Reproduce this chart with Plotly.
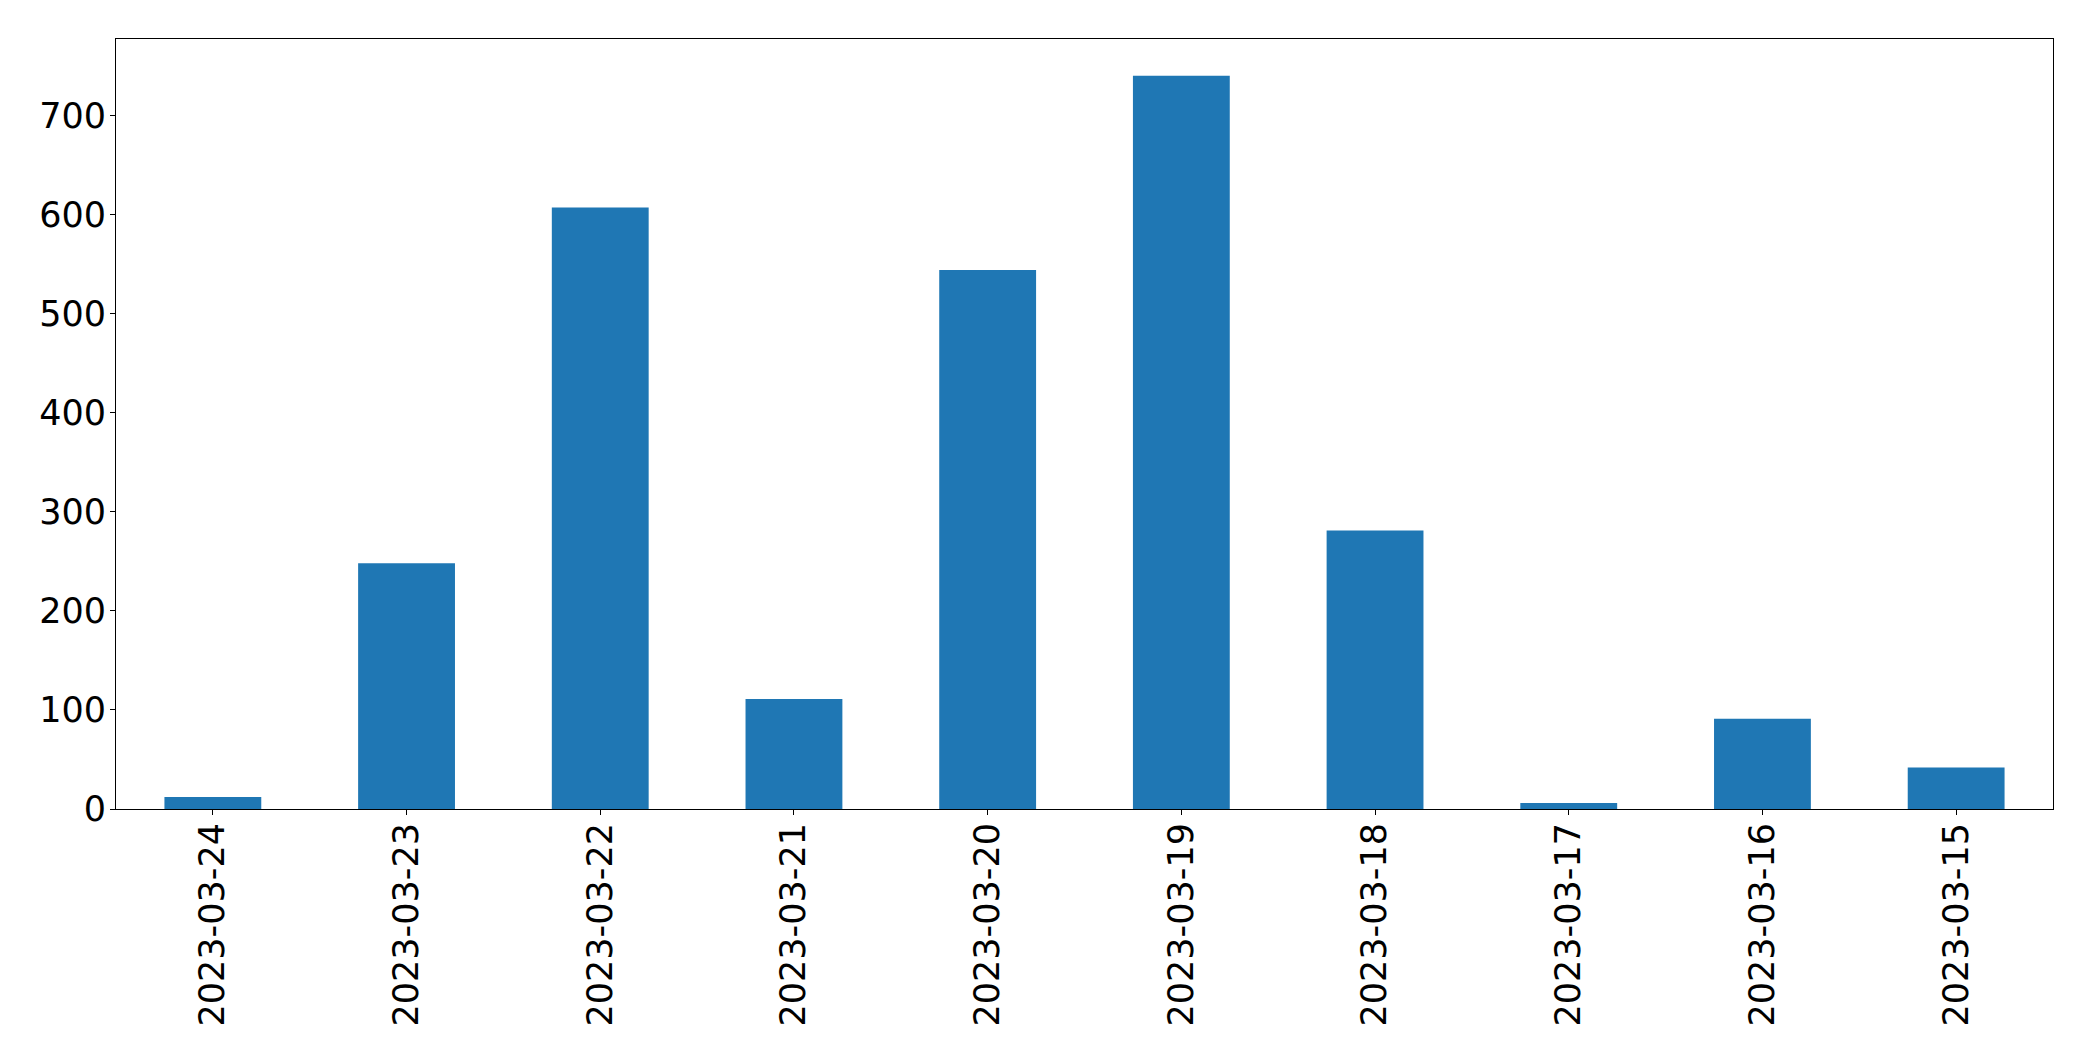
import plotly.graph_objects as go

categories = ["2023-03-24", "2023-03-23", "2023-03-22", "2023-03-21", "2023-03-20",
              "2023-03-19", "2023-03-18", "2023-03-17", "2023-03-16", "2023-03-15"]
values = [12, 248, 607, 111, 544, 740, 281, 6, 91, 42]
y_ticks = [0, 100, 200, 300, 400, 500, 600, 700]

fig = go.Figure(go.Bar(x=categories, y=values, width=0.5, marker=dict(color="#1f77b4", line=dict(width=0))))

axis_common = dict(showline=True, linecolor="black", linewidth=1.1, mirror=True,
                   showgrid=False, zeroline=False, ticks="outside", ticklen=5,
                   tickwidth=1.1, tickcolor="black",
                   tickfont=dict(family="DejaVu Sans", size=35, color="black"))

fig.update_layout(
    width=2093, height=1061,
    margin=dict(l=108, r=48, t=31, b=260),
    paper_bgcolor="white", plot_bgcolor="white",
    showlegend=False,
    xaxis=dict(type="category", range=[-0.5, 9.5], tickangle=-90, ticklabelstandoff=-6, **axis_common),
    yaxis=dict(range=[0, 777], tickvals=y_ticks, ticklabelstandoff=-3, **axis_common),
)

fig.write_html("out.html")
